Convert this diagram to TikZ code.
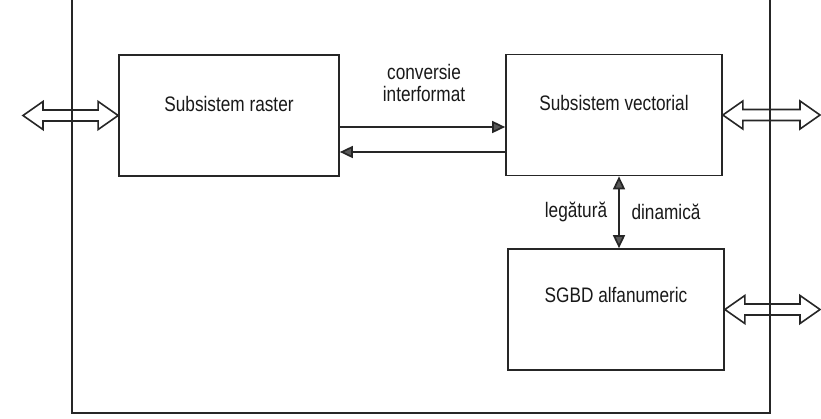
\documentclass[tikz,border=0pt]{standalone}
\usepackage{fontspec}
\setmainfont{Liberation Sans}
\newfontfamily\narrowsans[FakeStretch=0.82]{Liberation Sans}
\usetikzlibrary{arrows.meta,positioning,calc}

% hollow double arrow between two points on one level
\newcommand{\hollowarr}[2]{%
 \draw[hol] let \p1=(#1), \p2=(#2) in
  (\x1,\y1) -- (\x1+20pt,\y1+14pt) -- (\x1+20pt,\y1+5.5pt) -- (\x2-20pt,\y1+5.5pt)
  -- (\x2-20pt,\y1+14pt) -- (\x2,\y1) -- (\x2-20pt,\y1-14pt) -- (\x2-20pt,\y1-5.5pt)
  -- (\x1+20pt,\y1-5.5pt) -- (\x1+20pt,\y1-14pt) -- cycle;}

\begin{document}
\begin{tikzpicture}[x=1pt,y=-1pt,
 ln/.style={draw=black!85,line width=1.7pt},
 box/.style={ln,minimum width=216pt,minimum height=121pt,inner sep=0pt},
 lab/.style={font=\narrowsans\fontsize{21}{22.5}\selectfont,align=center,inner sep=0pt,text=black!90},
 arr/.style={ln,-{Triangle[length=13pt,width=12pt,fill=black!65]}},
 darr/.style={ln,{Triangle[length=13pt,width=12pt,fill=black!65]}-{Triangle[length=13pt,width=12pt,fill=black!65]}},
 hol/.style={draw=black!85,line width=1.6pt,line join=miter}]
 \fill[white] (0,0) rectangle (821,418);
 \useasboundingbox (0,0) rectangle (821,418);
 % outer frame
 \coordinate (ftl) at (72,-5); \coordinate (fbl) at (72,413);
 \coordinate (fbr) at (770,413); \coordinate (ftr) at (770,-5);
 \draw[ln] (ftl) -- (fbl) -- (fbr) -- (ftr);
 % subsystems
 \node[box,minimum width=220pt] (raster) at (229,115.5) {};
 \node[box] (vector) at (614,115) {};
 \node[box] (sgbd) at (616,309.5) {};
 \node[lab] (rasterT) at ([yshift=11.5pt]raster.center) {Subsistem raster};
 \node[lab] (vectorT) at ([yshift=12.5pt]vector.center) {Subsistem vectorial};
 \node[lab] (sgbdT) at ([yshift=14.5pt]sgbd.center) {SGBD alfanumeric};
 % labels of the links
 \node[lab] (conv) at (424,83) {conversie\\interformat};
 \node[lab] (leg) at (576,212) {legătură};
 \node[lab] (din) at (666,212) {dinamică};
 % links
 \draw[arr] ([yshift=-12pt]vector.west -| raster.east) -- ([yshift=-12pt]vector.west);
 \draw[arr] ([yshift=-37pt]vector.west) -- ([yshift=-37pt]vector.west -| raster.east);
 \draw[darr] ([xshift=5pt]vector.south) -- ([xshift=5pt]vector.south |- sgbd.north);
 % exchanges with the outside
 \coordinate (inL) at (23,115.5);
 \coordinate (outR1) at (820,115);
 \coordinate (outR2) at (820,309.5);
 \hollowarr{inL}{raster.west}
 \hollowarr{vector.east}{outR1}
 \hollowarr{sgbd.east}{outR2}
\end{tikzpicture}
\end{document}
